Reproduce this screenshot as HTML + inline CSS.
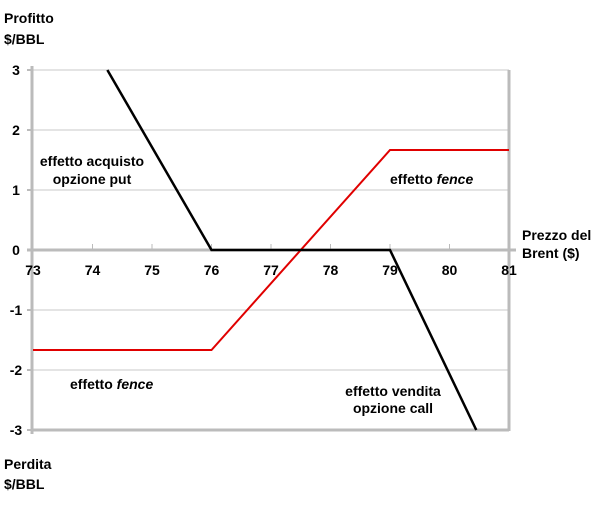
<!DOCTYPE html>
<html><head><meta charset="utf-8"><style>
body{margin:0;background:#fff;}
svg text{font-family:"Liberation Sans",Arial,sans-serif;font-weight:bold;font-size:14px;fill:#000;}
</style></head><body>
<svg id="chart" width="600" height="500" xmlns="http://www.w3.org/2000/svg">
<g id="grid"></g><g id="axes"></g><g id="series"></g><g id="labels"></g>
<text x="4" y="23">Profitto</text>
<text x="4" y="44">$/BBL</text>
<text x="4" y="469">Perdita</text>
<text x="4" y="489">$/BBL</text>
<text x="522" y="240">Prezzo del</text>
<text x="522" y="258">Brent ($)</text>
<text x="92" y="166" text-anchor="middle">effetto acquisto</text>
<text x="92" y="184" text-anchor="middle">opzione put</text>
<text x="390" y="184">effetto <tspan font-style="italic">fence</tspan></text>
<text x="70" y="389">effetto <tspan font-style="italic">fence</tspan></text>
<text x="393" y="396" text-anchor="middle">effetto vendita</text>
<text x="393" y="413" text-anchor="middle">opzione call</text>
</svg>
<script>
const xTicks=[73,74,75,76,77,78,79,80,81];
const yTicks=[3,2,1,0,-1,-2,-3];
const blackX=[74.25,76,79,80.45];
const blackY=[3,0,0,-3];
const redX=[73,76,79,81];
const redY=[-1.667,-1.667,1.667,1.667];
const NS="http://www.w3.org/2000/svg";
function sx(v){return 33+(v-73)*59.5;}
function sy(v){return 250-v*60;}
function mk(tag,at,parent){const e=document.createElementNS(NS,tag);for(const k in at)e.setAttribute(k,at[k]);document.getElementById(parent).appendChild(e);return e;}
yTicks.forEach(t=>{
 if(t!==0){const l=mk('line',{x1:33,x2:509,y1:sy(t),y2:sy(t),stroke:t===-3?'#bbb':'#c8c8c8','stroke-width':t===-3?3:1},'grid');
 
 }
 const tx=mk('text',{x:16,y:sy(t)+5,'text-anchor':'middle'},'labels');tx.textContent=t;
 
 
 const tk=mk('line',{x1:27,x2:33,y1:sy(t),y2:sy(t),stroke:'#bbb','stroke-width':2},'axes');
 
 
});
const ya=mk('line',{x1:32,x2:32,y1:66,y2:434,stroke:'#bbb','stroke-width':3},'axes');


const rb=mk('line',{x1:509,x2:509,y1:70,y2:431,stroke:'#bbb','stroke-width':3},'axes');


const xa=mk('line',{x1:27,x2:516,y1:250,y2:250,stroke:'#bbb','stroke-width':3},'axes');


xTicks.forEach(t=>{
 const tk=mk('line',{x1:sx(t),x2:sx(t),y1:244,y2:250,stroke:'#bbb','stroke-width':1},'axes');
 
 
 const tx=mk('text',{x:sx(t),y:275,'text-anchor':'middle'},'labels');tx.textContent=t;
 
 
});
function pts(xs,ys){return xs.map((x,i)=>sx(x)+','+sy(ys[i])).join(' ');}
const r=mk('polyline',{points:pts(redX,redY),fill:'none',stroke:'#e00000','stroke-width':2},'series');


const b=mk('polyline',{points:pts(blackX,blackY),fill:'none',stroke:'#000','stroke-width':2.5},'series');


</script>
</body></html>
